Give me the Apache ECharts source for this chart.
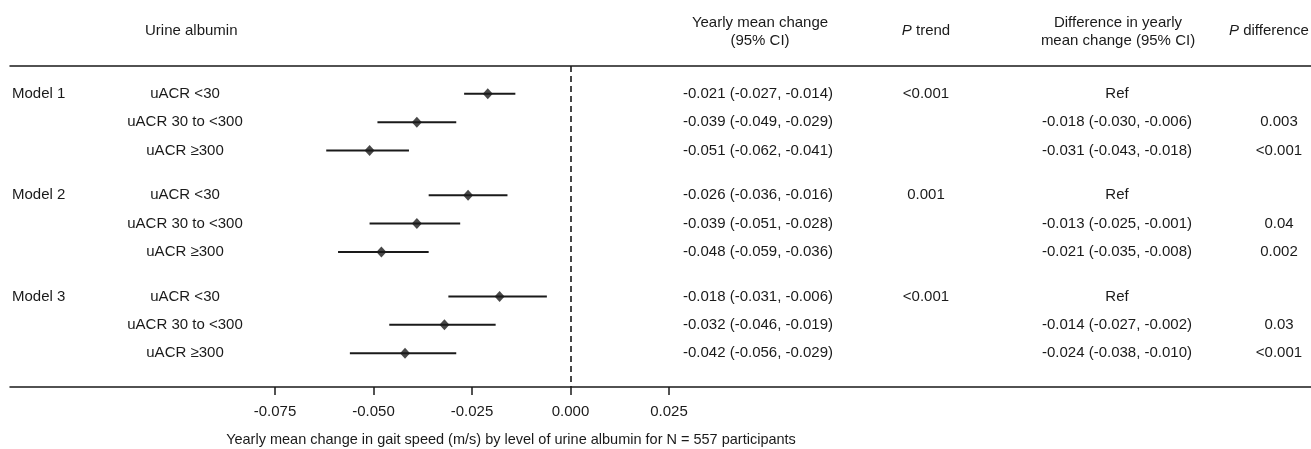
<!DOCTYPE html>
<html>
<head>
<meta charset="utf-8">
<script src="https://cdn.jsdelivr.net/npm/echarts@6/dist/echarts.min.js"></script>
<style>
  html, body { margin: 0; padding: 0; background: #fff; }
  #chart { width: 1311px; height: 449px; }
</style>
</head>
<body>
<div id="chart"></div>
<script>
// data
const models = ['Model 1', 'Model 2', 'Model 3'];
const groups = ['uACR <30', 'uACR 30 to <300', 'uACR \u2265300'];
const est = [-0.021, -0.039, -0.051, -0.026, -0.039, -0.048, -0.018, -0.032, -0.042];
const lo  = [-0.027, -0.049, -0.062, -0.036, -0.051, -0.059, -0.031, -0.046, -0.056];
const hi  = [-0.014, -0.029, -0.041, -0.016, -0.028, -0.036, -0.006, -0.019, -0.029];
const pTrend = ['<0.001', '', '', '0.001', '', '', '<0.001', '', ''];
const diffEst = [null, -0.018, -0.031, null, -0.013, -0.021, null, -0.014, -0.024];
const diffLo  = [null, -0.030, -0.043, null, -0.025, -0.035, null, -0.027, -0.038];
const diffHi  = [null, -0.006, -0.018, null, -0.001, -0.008, null, -0.002, -0.010];
const pDiff = ['', '0.003', '<0.001', '', '0.04', '0.002', '', '0.03', '<0.001'];
const tickValues = [-0.075, -0.05, -0.025, 0, 0.025];

const FONT = 'Liberation Sans, Arial, sans-serif';
const FS = 15;
const INK = '#1a1a1a';

// row position on the y axis: 3 rows per model plus a gap
const rowPos = est.map((_, i) => Math.floor(i / 3) * 3.57 + (i % 3));

const f3 = v => v.toFixed(3);
const ciText = (e, l, h) => f3(e) + ' (' + f3(l) + ', ' + f3(h) + ')';

const chart = echarts.init(document.getElementById('chart'), null, { renderer: 'canvas' });

function txt(x, y, text, align, size) {
  return {
    type: 'text',
    style: {
      x: x, y: y, text: text,
      align: align, textAlign: align,
      verticalAlign: 'middle', textVerticalAlign: 'middle',
      fill: INK, fontSize: size || FS, fontFamily: FONT
    }
  };
}

const xMin = -0.14226, xMax = 0.18794;

const option = {
  animation: false,
  grid: { left: 10, right: 0, top: 66, bottom: 62 },
  xAxis: [
    {
      type: 'value',
      min: xMin, max: xMax,
      splitLine: { show: false },
      axisLine: { show: true, onZero: false, lineStyle: { color: INK, width: 1.5 } },
      axisTick: { show: true, length: 8, customValues: tickValues, lineStyle: { color: INK, width: 1.5 } },
      axisLabel: {
        customValues: tickValues,
        margin: 17,
        color: INK, fontSize: FS, fontFamily: FONT,
        formatter: v => v.toFixed(3)
      }
    },
    {
      type: 'value', position: 'top',
      min: xMin, max: xMax,
      splitLine: { show: false },
      axisLine: { show: true, onZero: false, lineStyle: { color: INK, width: 1.5 } },
      axisTick: { show: false },
      axisLabel: { show: false }
    }
  ],
  yAxis: {
    type: 'value',
    inverse: true,
    min: -0.98, max: 10.33,
    show: false
  },
  graphic: [
    txt(145, 31, 'Urine albumin', 'left'),
    txt(760, 23, 'Yearly mean change', 'center'),
    txt(760, 41, '(95% CI)', 'center'),
    {
      type: 'text',
      style: {
        x: 926, y: 31, text: '{i|P} trend', align: 'center', verticalAlign: 'middle',
        fill: INK, fontSize: FS, fontFamily: FONT,
        rich: { i: { fontStyle: 'italic', fontSize: FS, fontFamily: FONT, fill: INK } }
      }
    },
    txt(1118, 23, 'Difference in yearly', 'center'),
    txt(1118, 41, 'mean change (95% CI)', 'center'),
    {
      type: 'text',
      style: {
        x: 1229, y: 31, text: '{i|P} difference', align: 'left', verticalAlign: 'middle',
        fill: INK, fontSize: FS, fontFamily: FONT,
        rich: { i: { fontStyle: 'italic', fontSize: FS, fontFamily: FONT, fill: INK } }
      }
    },
    txt(511, 440, 'Yearly mean change in gait speed (m/s) by level of urine albumin for N = 557 participants', 'center', 14.5)
  ],
  series: [
    {
      type: 'custom',
      name: 'ci',
      data: est.map((_, i) => [lo[i], hi[i], rowPos[i]]),
      encode: { x: [0, 1], y: 2 },
      renderItem: function (params, api) {
        const a = api.coord([api.value(0), api.value(2)]);
        const b = api.coord([api.value(1), api.value(2)]);
        return {
          type: 'line',
          shape: { x1: a[0], y1: a[1], x2: b[0], y2: b[1] },
          style: { stroke: INK, lineWidth: 2 }
        };
      },
      markLine: {
        silent: true,
        symbol: 'none',
        label: { show: false },
        lineStyle: { type: [6, 4], color: INK, width: 1.6 },
        data: [{ xAxis: 0 }]
      },
      z: 2
    },
    {
      type: 'scatter',
      name: 'estimate',
      data: est.map((v, i) => [v, rowPos[i]]),
      symbol: 'diamond',
      symbolSize: [10, 11],
      itemStyle: { color: INK },
      z: 3
    },
    {
      type: 'custom',
      name: 'table',
      clip: false,
      data: est.map((_, i) => [0, rowPos[i], i]),
      encode: { x: 0, y: 1 },
      renderItem: function (params, api) {
        const i = api.value(2);
        const y = api.coord([0, api.value(1)])[1];
        const kids = [];
        if (i % 3 === 0) kids.push(txt(12, y, models[i / 3], 'left'));
        kids.push(txt(185, y, groups[i % 3], 'center'));
        kids.push(txt(758, y, ciText(est[i], lo[i], hi[i]), 'center'));
        if (pTrend[i]) kids.push(txt(926, y, pTrend[i], 'center'));
        kids.push(txt(1117, y, diffEst[i] === null ? 'Ref' : ciText(diffEst[i], diffLo[i], diffHi[i]), 'center'));
        if (pDiff[i]) kids.push(txt(1279, y, pDiff[i], 'center'));
        return { type: 'group', children: kids };
      },
      z: 4
    }
  ]
};

chart.setOption(option);
</script>
</body>
</html>
